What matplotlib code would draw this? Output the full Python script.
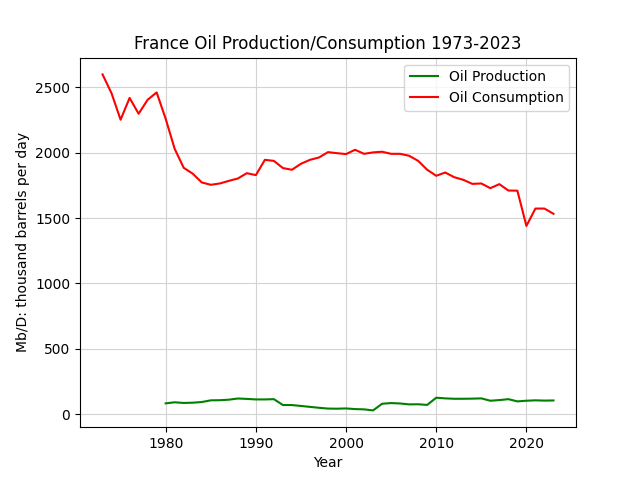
import matplotlib
matplotlib.use('Agg')
import matplotlib.pyplot as plt

# годы и значения (тыс. баррелей в день)
cons_years = list(range(1973, 2024))
consumption = [2600, 2455, 2253, 2420, 2299, 2406, 2462, 2260, 2030, 1885,
               1840, 1773, 1755, 1765, 1785, 1803, 1844, 1829, 1946, 1938,
               1883, 1870, 1916, 1946, 1964, 2005, 1997, 1990, 2023, 1992,
               2003, 2008, 1992, 1992, 1977, 1938, 1870, 1824, 1849, 1813,
               1793, 1762, 1765, 1729, 1760, 1711, 1710, 1440, 1573, 1573,
               1533]

prod_years = list(range(1980, 2024))
production = [82, 90, 85, 87, 92, 105, 106, 110, 119, 116,
              112, 112, 114, 69, 69, 62, 55, 48, 42, 41,
              43, 38, 36, 28, 79, 84, 81, 74, 75, 70,
              125, 120, 117, 117, 118, 120, 102, 107, 114, 97,
              102, 105, 103, 104]

fig, ax = plt.subplots(figsize=(6.4, 4.8), dpi=100)
ax.plot(prod_years, production, color='green', label='Oil Production')
ax.plot(cons_years, consumption, color='red', label='Oil Consumption')
ax.set_title('France Oil Production/Consumption 1973-2023')
ax.set_xlabel('Year')
ax.set_ylabel('Mb/D: thousand barrels per day')
ax.grid(True, color='#d3d3d3')
ax.legend()
fig.savefig('out.png')
